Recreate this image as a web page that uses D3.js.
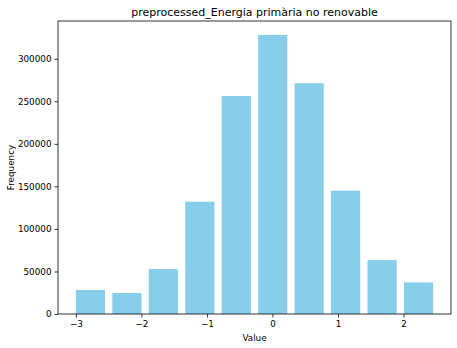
<!DOCTYPE html>
<html>
<head>
<meta charset="utf-8">
<script src="https://cdn.jsdelivr.net/npm/d3@7/dist/d3.min.js"></script>
<style>
  html, body { margin: 0; padding: 0; background: #fff; }
  svg { display: block; font-family: "DejaVu Sans", sans-serif; }
</style>
</head>
<body>
<svg id="chart" width="457" height="348"></svg>
<script>
// Histogram bin centers and counts
const binCenters = [-2.7775, -2.2212, -1.6649, -1.1086, -0.5523, 0.0040, 0.5603, 1.1166, 1.6729, 2.2292];
const counts = [28200, 24700, 52800, 132000, 256200, 328000, 271300, 145000, 63400, 37100];
const binStep = 0.5563;
const xTicks = [-3, -2, -1, 0, 1, 2];
const yTicks = [0, 50000, 100000, 150000, 200000, 250000, 300000];

const svg = d3.select("#chart");
const margin = { left: 58, right: 6, top: 21, bottom: 34 };
const W = 457, H = 348;
const iw = W - margin.left - margin.right;
const ih = H - margin.top - margin.bottom;

const barW = binStep * 0.8;
const lo = binCenters[0] - barW / 2;
const hi = binCenters[binCenters.length - 1] + barW / 2;
const pad = (hi - lo) * 0.05;

const x = d3.scaleLinear().domain([lo - pad, hi + pad]).range([0, iw]);
const y = d3.scaleLinear().domain([0, d3.max(counts) * 1.05]).range([ih, 0]);

const g = svg.append("g").attr("transform", `translate(${margin.left},${margin.top})`);

g.selectAll("rect.bar")
  .data(binCenters)
  .join("rect")
  .attr("class", "bar")
  .attr("x", d => x(d - barW / 2))
  .attr("width", d => x(d + barW / 2) - x(d - barW / 2))
  .attr("y", (d, i) => y(counts[i]))
  .attr("height", (d, i) => y(0) - y(counts[i]))
  .attr("fill", "#87ceeb");

const fmtX = d => (d < 0 ? "\u2212" + Math.abs(d) : String(d));

const xAxis = g.append("g")
  .attr("transform", `translate(0,${ih})`)
  .call(d3.axisBottom(x).tickValues(xTicks).tickFormat(fmtX).tickSize(3.5).tickPadding(3));
const yAxis = g.append("g")
  .call(d3.axisLeft(y).tickValues(yTicks).tickFormat(d3.format("d")).tickSize(3.5).tickPadding(3));

[xAxis, yAxis].forEach(a => {
  a.select(".domain").remove();
  a.selectAll("text").attr("font-size", 8.8).attr("fill", "#000").attr("font-family", "DejaVu Sans");
  a.selectAll("line").attr("stroke", "#000").attr("stroke-width", 0.8);
});

// Frame
g.append("rect")
  .attr("x", 0).attr("y", 0).attr("width", iw).attr("height", ih)
  .attr("fill", "none").attr("stroke", "#000").attr("stroke-width", 0.8);

svg.append("text")
  .attr("x", margin.left + iw / 2).attr("y", 16)
  .attr("text-anchor", "middle").attr("font-size", 11)
  .text("preprocessed_Energia primària no renovable");

svg.append("text")
  .attr("x", margin.left + iw / 2).attr("y", 341)
  .attr("text-anchor", "middle").attr("font-size", 8.8)
  .text("Value");

svg.append("text")
  .attr("transform", `translate(14,${margin.top + ih / 2}) rotate(-90)`)
  .attr("text-anchor", "middle").attr("font-size", 8.8)
  .text("Frequency");
</script>
</body>
</html>
